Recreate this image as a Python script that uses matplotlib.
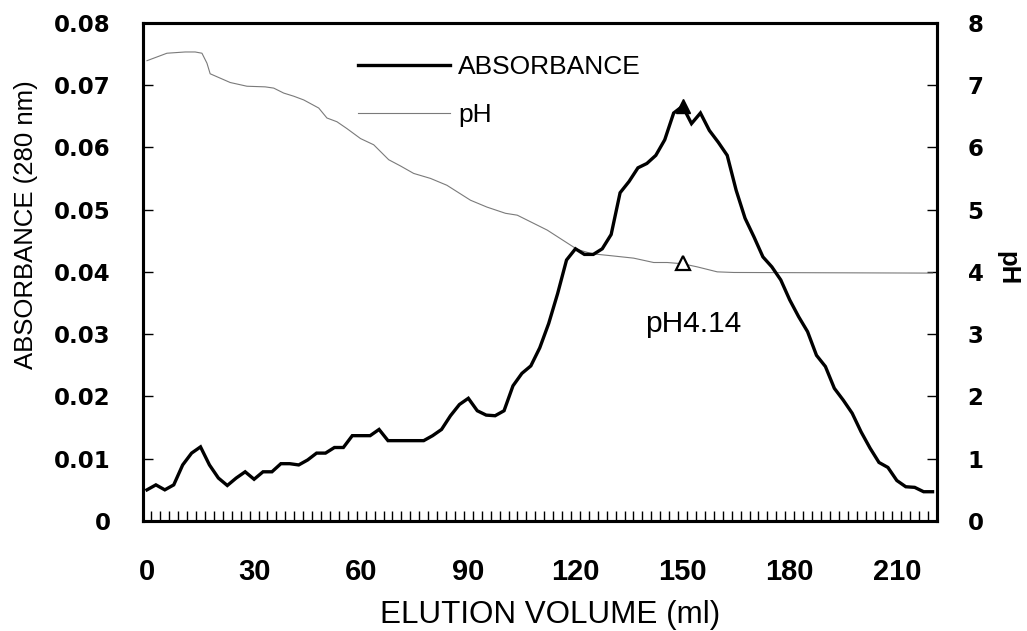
import matplotlib
matplotlib.use("Agg")
import matplotlib.pyplot as plt
from matplotlib import font_manager
from matplotlib.lines import Line2D
from matplotlib.font_manager import FontProperties
import numpy as np

# ---------------- data ----------------
fraction_step_ml = 2.5
absorbance = [
    0.0050, 0.0058, 0.0050, 0.0058, 0.0090, 0.0109, 0.0119, 0.0090, 0.0069, 0.0057,
    0.0069, 0.0079, 0.0067, 0.0079, 0.0079, 0.0092, 0.0092, 0.0090, 0.0098, 0.0109,
    0.0109, 0.0118, 0.0118, 0.0137, 0.0137, 0.0137, 0.0147, 0.0129, 0.0129, 0.0129,
    0.0129, 0.0129, 0.0137, 0.0147, 0.0169, 0.0187, 0.0197, 0.0177, 0.0170, 0.0169,
    0.0177, 0.0217, 0.0237, 0.0249, 0.0278, 0.0317, 0.0365, 0.0419, 0.0437, 0.0428,
    0.0428, 0.0437, 0.0460, 0.0527, 0.0545, 0.0567, 0.0574, 0.0587, 0.0612, 0.0655,
    0.0666, 0.0638, 0.0655, 0.0627, 0.0608, 0.0587, 0.0531, 0.0486, 0.0456, 0.0424,
    0.0408, 0.0387, 0.0355, 0.0328, 0.0304, 0.0266, 0.0248, 0.0213, 0.0194, 0.0173,
    0.0143, 0.0117, 0.0094, 0.0086, 0.0065, 0.0055, 0.0054, 0.0047, 0.0047,
]
elution_volume = np.arange(len(absorbance)) * fraction_step_ml

ph_volume = [0.0, 5.6, 10.7, 13.5, 15.4, 16.8, 17.7, 20.5, 23.3, 28.0, 33.1, 35.5,
             38.3, 41.1, 43.9, 48.1, 50.4, 53.2, 56.0, 59.8, 63.5, 67.7, 71.0, 74.7,
             79.4, 84.0, 90.6, 95.2, 100.4, 103.7, 106.5, 112.1, 116.7, 120.5, 124.7,
             129.8, 136.3, 141.9, 145.7, 150.0, 154.1, 159.7, 164.3, 220.0]
ph_values = [7.39, 7.51, 7.53, 7.53, 7.51, 7.35, 7.18, 7.11, 7.04, 6.98, 6.97, 6.95,
             6.87, 6.82, 6.76, 6.63, 6.47, 6.41, 6.30, 6.14, 6.04, 5.80, 5.70, 5.58,
             5.50, 5.39, 5.15, 5.04, 4.94, 4.91, 4.83, 4.67, 4.50, 4.36, 4.29,
             4.26, 4.22, 4.15, 4.15, 4.13, 4.08, 4.00, 3.99, 3.98]

peak_volume = 150.0
peak_ph = 4.14
x_tick_values = [0, 30, 60, 90, 120, 150, 180, 210]
y_left_ticks = [0, 0.01, 0.02, 0.03, 0.04, 0.05, 0.06, 0.07, 0.08]
y_left_labels = ["0", "0.01", "0.02", "0.03", "0.04", "0.05", "0.06", "0.07", "0.08"]
y_right_ticks = [0, 1, 2, 3, 4, 5, 6, 7, 8]
y_right_labels = ["0", "1", "2", "3", "4", "5", "6", "7", "8"]

# ---------------- fonts ----------------
names = {f.name for f in font_manager.fontManager.ttflist}
sans = "Liberation Sans" if "Liberation Sans" in names else "DejaVu Sans"

W, H = 1027, 631
fig = plt.figure(figsize=(W / 100, H / 100), dpi=100)
left, right, top, bottom = 142.5, 937.0, 22.7, 521.0
ax = fig.add_axes([left / W, 1 - bottom / H, (right - left) / W, (bottom - top) / H])
ax2 = ax.twinx()
ax.set_zorder(ax2.get_zorder() + 1)
ax.patch.set_visible(False)

n_cat = len(absorbance)
ax.set_xlim(-fraction_step_ml / 2, (n_cat - 0.5) * fraction_step_ml)
ax.set_ylim(0, 0.08)
ax2.set_ylim(0, 8)

ph_color = "#7a7a7a"
# pH curve
ax2.plot(ph_volume, ph_values, color=ph_color, lw=0.8, zorder=2)
ax2.plot([peak_volume], [peak_ph], marker="^", ms=10, mfc="white", mec="black",
         mew=1.6, ls="none", zorder=3)

# absorbance curve
ax.plot(elution_volume, absorbance, color="black", lw=2.4, zorder=3,
        solid_joinstyle="miter")
peak_idx = int(np.argmin(np.abs(elution_volume - peak_volume)))
ax.plot([elution_volume[peak_idx]], [absorbance[peak_idx]], marker="^", ms=10,
        color="black", ls="none", zorder=4)

# spines
for a in (ax, ax2):
    for s in a.spines.values():
        s.set_linewidth(2.2)
        s.set_color("black")

# x ticks
ax.set_xticks(x_tick_values)
ax.set_xticklabels([str(v) for v in x_tick_values])
boundaries = (np.arange(n_cat + 1) - 0.5) * fraction_step_ml
ax.set_xticks(boundaries, minor=True)
ax.tick_params(axis="x", which="major", length=0, pad=27)
ax.tick_params(axis="x", which="minor", direction="in", length=7, width=1.0)
xfp = FontProperties(family=sans, weight="bold", size=21)
for lab in ax.get_xticklabels():
    lab.set_fontproperties(xfp)

# y ticks
yfp = FontProperties(family="DejaVu Sans", weight="bold", size=16.5)
ax.set_yticks(y_left_ticks)
ax.set_yticklabels(y_left_labels)
ax.tick_params(axis="y", which="major", direction="in", length=7, width=1.0, pad=23)
for lab in ax.get_yticklabels():
    lab.set_fontproperties(yfp)
ax2.set_yticks(y_right_ticks)
ax2.set_yticklabels(y_right_labels)
ax2.tick_params(axis="y", which="major", direction="in", length=7, width=1.0, pad=22)
for lab in ax2.get_yticklabels():
    lab.set_fontproperties(yfp)

# axis labels
fig.text(550 / W, 1 - 623 / H, "ELUTION VOLUME (ml)", ha="center", va="baseline",
         family=sans, size=22.6)
fig.text(26 / W, 1 - 225 / H, "ABSORBANCE (280 nm)", ha="center", va="center",
         rotation=90, family=sans, size=18.5)
fig.text(1007 / W, 1 - 268 / H, "pH", ha="center", va="center", rotation=270,
         family=sans, size=18.5, weight="bold")

# annotation
ax.text(153.0, 0.0316, "pH4.14", ha="center", va="center", family=sans, size=21.5)

# legend
h1 = Line2D([], [], color="black", lw=2.4)
h2 = Line2D([], [], color=ph_color, lw=0.8)
ax.legend([h1, h2], ["ABSORBANCE", "pH"], loc="upper left",
          bbox_to_anchor=(358 / W, 1 - 55 / H), bbox_transform=fig.transFigure,
          frameon=False, borderpad=0, borderaxespad=0, handlelength=3.5,
          handletextpad=0.3, labelspacing=0.9,
          prop=FontProperties(family=sans, size=19))

fig.savefig("out.png", dpi=100)
